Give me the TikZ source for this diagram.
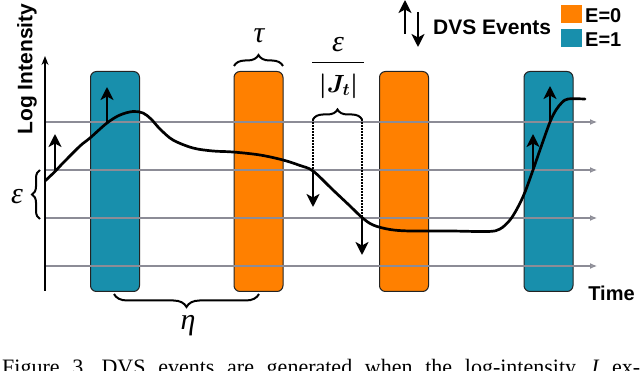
\documentclass[tikz,border=0pt]{standalone}
\usepackage{fontspec}
\usepackage{amsmath}
\setmainfont{Liberation Serif}
\newfontfamily\hvb{Liberation Sans}
\newfontfamily\grk{Liberation Serif}
\usetikzlibrary{arrows.meta,decorations.pathreplacing}
\definecolor{myteal}{RGB}{24,143,172}
\definecolor{myorange}{RGB}{255,128,0}
\definecolor{gridgray}{RGB}{140,140,150}
\definecolor{boxedge}{RGB}{35,35,35}
\tikzset{
  evbox/.style={draw=boxedge, line width=1pt, rounded corners=6pt, minimum width=49pt, minimum height=220pt, inner sep=0pt},
  tealbox/.style={evbox, fill=myteal},
  orangebox/.style={evbox, fill=myorange},
  gridline/.style={gridgray, line width=1.1pt, -{Latex[length=7pt,width=6pt,fill=gridgray!80]}},
  curve/.style={black, line width=2.7pt, line join=round, line cap=round},
  evt/.style={black, line width=2.4pt, -{Stealth[length=13pt,width=13pt,inset=3.5pt]}},
  dotline/.style={black, line width=2.2pt, dash pattern=on 1.6pt off 1.4pt},
  bracestyle/.style={black, line width=2pt, decorate},
  lbl/.style={font=\hvb\bfseries\fontsize{20}{24}\selectfont, inner sep=0pt},
  mlbl/.style={font=\fontsize{27}{32}\selectfont, inner sep=0pt},
  glbl/.style={font=\grk\itshape\fontsize{30}{34}\selectfont, inner sep=0pt},
}
\begin{document}
\begin{tikzpicture}[x=1pt,y=-1pt]
\useasboundingbox (0,0) rectangle (640,371);
\fill[white] (0,0) rectangle (640,371);

% event windows
\node[tealbox]   (w1) at (115,181.5) {};
\node[orangebox] (w2) at (258.5,181.5) {};
\node[orangebox] (w3) at (404,181.5) {};
\node[tealbox]   (w4) at (548.5,181.5) {};

% threshold grid lines
\foreach \yy/\nm in {122/g1,170/g2,218/g3,266/g4}{
  \coordinate (\nm s) at (45,\yy);
  \coordinate (\nm e) at (597,\yy);
  \draw[gridline] (\nm s) -- (\nm e);
}

% y axis
\coordinate (ax0) at (45,291);
\coordinate (ax1) at (45,56);
\draw[black, line width=1.4pt, -{Stealth[length=9pt,width=7pt]}] (ax0) -- (ax1);

% log intensity curve
\draw[curve] plot[smooth, tension=0.55] coordinates {
 (45,181) (55,171.5) (63,163) (80,146) (90,138) (107,123) (120,115) (133,111.5)
 (143,113) (151,119) (160,129) (173,140) (193,148) (213,151) (233,152) (260,155)
 (283,160) (300,165.5) (313,171) (333,190) (350,206) (362,217.5) (373,225)
 (390,229.5) (410,231) (450,231) (488,231.5) (500,229) (510,220) (518,207)
 (525,192) (533,170) (541,147) (550,122) (556,110) (562,102.5) (568,99) (585,99)};

% event arrows
\coordinate (e1a) at (55,171.5);  \coordinate (e1b) at (55,134);
\coordinate (e2a) at (107,123);   \coordinate (e2b) at (107,87);
\coordinate (e3a) at (313,170);   \coordinate (e3b) at (313,207);
\coordinate (e4a) at (362,218);   \coordinate (e4b) at (362,255);
\coordinate (e5a) at (533,170);   \coordinate (e5b) at (533,134);
\coordinate (e6a) at (550,122);   \coordinate (e6b) at (550,86);
\foreach \i in {1,...,6}{ \draw[evt] (e\i a) -- (e\i b); }

% dotted guides
\coordinate (d1) at (313,119.5);
\coordinate (d2) at (362,119.5);
\draw[dotline] (d1) -- (e3a);
\draw[dotline] (d2) -- (e4a);

% braces
\coordinate (tb1) at (234,66); \coordinate (tb2) at (283,66);
\draw[bracestyle, decoration={brace, amplitude=11pt}] (tb1) -- (tb2);
\draw[bracestyle, decoration={brace, amplitude=10pt}] (d1) -- (d2);
\coordinate (hb1) at (259,294); \coordinate (hb2) at (114,294);
\draw[bracestyle, decoration={brace, amplitude=13pt}] (hb1) -- (hb2);
\coordinate (vb1) at (40,219); \coordinate (vb2) at (40,170);
\draw[bracestyle, decoration={brace, amplitude=8pt}] (vb1) -- (vb2);

% math labels
\node[glbl] (tau) at (259,36) {τ};
\node[glbl] (epsn) at (338,45) {ε};
\coordinate (fb1) at (312,62.5); \coordinate (fb2) at (364,62.5);
\draw[black, line width=1.6pt] (fb1) -- (fb2);
\node[mlbl] (jt) at (338.5,86) {$\boldsymbol{|J_t|}$};
\node[glbl] (eta) at (188,326) {η};
\node[glbl] (epsl) at (17,197) {ε};

% text labels
\node[lbl, font=\hvb\bfseries\fontsize{21}{24}\selectfont, rotate=90] (ylab) at (27,69) {Log Intensity};
\node[lbl, anchor=base] (tlab) at (611.5,301) {Time};

% legend
\coordinate (la1) at (405,34); \coordinate (la2) at (405,0);
\coordinate (lb1) at (418,12); \coordinate (lb2) at (418,47);
\draw[evt] (la1) -- (la2);
\draw[evt] (lb1) -- (lb2);
\node[lbl, font=\hvb\bfseries\fontsize{21}{24}\selectfont, anchor=base west] (dvs) at (433,35) {DVS Events};
\node[fill=myorange, minimum width=21pt, minimum height=18pt, inner sep=0pt] (lo) at (571.5,14) {};
\node[fill=myteal, minimum width=21pt, minimum height=18pt, inner sep=0pt] (lt) at (571.5,38) {};
\node[lbl, anchor=base west] (e0) at (585,22.7) {E=0};
\node[lbl, anchor=base west] (e1) at (585,46.7) {E=1};

% caption (cut off by the frame, as in the reference)
\node[anchor=base west, inner sep=0pt, font=\fontsize{22}{26}\selectfont] (cap) at (2,374)
  {\frenchspacing\makebox[638pt][s]{Figure 3. DVS events are generated when the log-intensity \textit{J} ex-}};
\end{tikzpicture}
\end{document}
